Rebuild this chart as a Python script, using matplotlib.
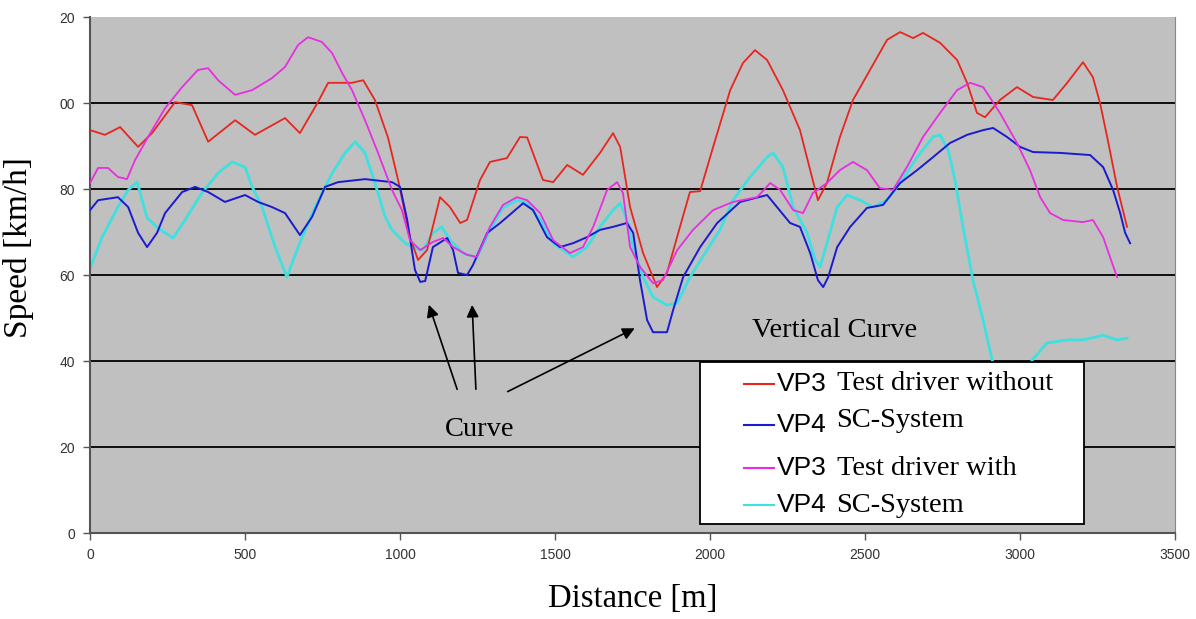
import matplotlib
matplotlib.use("Agg")
from matplotlib import pyplot as plt
from matplotlib.lines import Line2D
from matplotlib.patches import Rectangle

# ==== 資料 ====
red_x = [0, 48, 97, 155, 200, 274, 329, 381, 468, 532, 629, 677, 735, 768, 845, 881, 919, 961, 994,
         1032, 1058, 1087, 1129, 1161, 1194, 1216, 1258, 1290, 1345, 1387, 1410, 1461, 1494, 1539, 1590,
         1645, 1687, 1710, 1742, 1784, 1829, 1861, 1903, 1935, 1968, 2010, 2065, 2106, 2145, 2184, 2235,
         2290, 2323, 2348, 2377, 2419, 2461, 2516, 2571, 2613, 2655, 2687, 2742, 2797, 2829, 2861, 2887,
         2935, 2990, 3042, 3106, 3152, 3203, 3235, 3258, 3281, 3313, 3345]
red_y = [93.7, 92.6, 94.4, 89.8, 93.0, 100.2, 99.5, 91.0, 96.0, 92.6, 96.5, 93.0, 100.2, 104.7, 104.7,
         105.3, 100.7, 92.0, 82.0, 68.8, 63.5, 65.8, 78.1, 75.8, 72.1, 72.8, 82.1, 86.3, 87.2, 92.1, 92.0,
         82.1, 81.6, 85.6, 83.3, 88.4, 93.0, 89.8, 75.8, 65.1, 57.2, 60.5, 71.2, 79.3, 79.5, 89.8, 103.0,
         109.3, 112.3, 110.0, 103.0, 93.7, 84.4, 77.4, 81.4, 92.1, 100.7, 107.7, 114.7, 116.5, 115.1, 116.3,
         114.0, 110.0, 104.7, 97.7, 96.7, 100.7, 103.7, 101.4, 100.7, 104.7, 109.5, 106.0, 100.0, 92.1,
         80.5, 71.2]

blue_x = [0, 26, 90, 123, 155, 184, 216, 242, 297, 339, 381, 435, 500, 542, 587, 629, 677, 716, 758,
          800, 887, 974, 1000, 1023, 1048, 1065, 1081, 1106, 1152, 1171, 1187, 1216, 1235, 1281, 1323,
          1365, 1397, 1429, 1474, 1516, 1558, 1603, 1645, 1687, 1732, 1752, 1774, 1797, 1816, 1861, 1881,
          1913, 1968, 2023, 2097, 2184, 2216, 2258, 2290, 2323, 2348, 2365, 2381, 2410, 2452, 2506, 2558,
          2613, 2668, 2719, 2774, 2829, 2881, 2913, 2958, 3000, 3042, 3129, 3226, 3268, 3300, 3323, 3339,
          3355]
blue_y = [75.1, 77.4, 78.1, 75.8, 69.8, 66.5, 69.8, 74.4, 79.3, 80.5, 79.3, 77.0, 78.6, 77.0, 75.8, 74.4,
          69.3, 73.5, 80.5, 81.6, 82.3, 81.6, 80.5, 72.8, 61.2, 58.4, 58.6, 66.5, 68.6, 65.8, 60.5, 60.0,
          62.3, 69.8, 72.1, 74.7, 76.7, 75.1, 68.8, 66.5, 67.4, 68.8, 70.5, 71.2, 72.1, 69.8, 58.8, 49.5,
          46.7, 46.7, 51.9, 59.5, 66.5, 72.1, 77.0, 78.6, 75.8, 72.1, 71.2, 65.1, 58.8, 57.2, 59.5, 66.5,
          71.2, 75.6, 76.3, 81.4, 84.4, 87.4, 90.7, 92.6, 93.7, 94.2, 92.1, 89.8, 88.6, 88.4, 87.9, 85.1,
          79.8, 74.4, 69.8, 67.4]

mag_x = [0, 26, 58, 90, 119, 145, 187, 242, 297, 348, 381, 413, 468, 523, 587, 629, 671, 703, 748, 781,
         813, 845, 887, 929, 974, 1006, 1032, 1065, 1106, 1139, 1171, 1216, 1248, 1290, 1332, 1377, 1410,
         1452, 1494, 1548, 1590, 1623, 1668, 1700, 1719, 1742, 1774, 1816, 1848, 1894, 1945, 2010, 2074,
         2152, 2194, 2226, 2268, 2300, 2332, 2377, 2419, 2461, 2506, 2548, 2590, 2635, 2687, 2742, 2797,
         2839, 2881, 2935, 2990, 3032, 3065, 3097, 3139, 3203, 3235, 3268, 3290, 3313]
mag_y = [81.4, 84.9, 84.9, 82.8, 82.3, 86.7, 92.1, 98.8, 103.7, 107.7, 108.1, 105.3, 101.9, 103.0, 105.8,
         108.4, 113.5, 115.3, 114.2, 111.6, 107.0, 103.0, 96.0, 88.4, 79.8, 75.1, 68.1, 65.8, 67.7, 68.6,
         66.5, 64.7, 64.2, 71.2, 76.3, 78.1, 77.4, 74.4, 68.1, 65.1, 66.5, 71.2, 79.8, 81.6, 79.1, 66.5,
         61.9, 58.1, 58.8, 65.8, 70.5, 75.1, 77.0, 78.1, 81.4, 79.8, 75.1, 74.4, 79.1, 81.4, 84.4, 86.3,
         84.4, 80.2, 79.8, 85.1, 92.1, 97.7, 103.0, 104.7, 103.7, 97.7, 90.7, 84.4, 78.1, 74.4, 72.8, 72.3,
         72.8, 68.8, 64.2, 59.5]

cyan_x = [0, 39, 90, 123, 152, 168, 184, 219, 268, 306, 361, 413, 458, 500, 523, 555, 597, 635, 671, 726,
          781, 823, 855, 887, 919, 952, 974, 1016, 1042, 1074, 1106, 1135, 1161, 1203, 1248, 1290, 1332,
          1377, 1410, 1452, 1494, 1558, 1603, 1645, 1687, 1710, 1732, 1752, 1784, 1816, 1861, 1894, 1935,
          1990, 2032, 2074, 2129, 2184, 2203, 2235, 2268, 2313, 2339, 2355, 2377, 2410, 2442, 2484, 2526,
          2571, 2613, 2668, 2719, 2742, 2768, 2790, 2816, 2848, 2881, 2910, 2968, 3039, 3087, 3152, 3203,
          3268, 3313, 3345]
cyan_y = [61.6, 68.8, 75.8, 79.8, 81.6, 77.4, 73.3, 70.9, 68.6, 72.8, 79.1, 83.7, 86.3, 85.1, 80.5, 75.8,
          66.5, 59.5, 66.5, 75.8, 83.7, 88.4, 91.0, 88.4, 81.4, 73.5, 70.5, 67.4, 66.5, 65.8, 69.8, 71.2,
          68.1, 65.1, 64.0, 70.5, 75.6, 77.4, 76.7, 72.8, 67.4, 64.2, 66.5, 71.2, 75.1, 76.7, 72.8, 66.5,
          59.5, 54.9, 53.0, 53.5, 59.5, 65.8, 70.5, 77.4, 82.8, 87.4, 88.4, 85.1, 75.8, 69.8, 63.5, 61.9,
          67.4, 75.8, 78.6, 77.4, 75.8, 77.4, 81.4, 87.4, 92.1, 92.6, 89.1, 82.1, 71.2, 58.8, 49.5, 40.2,
          30.0, 40.2, 44.2, 44.9, 44.9, 46.0, 44.9, 45.3]

y_ticks = [0, 20, 40, 60, 80, 100, 120]
y_tick_labels = ["0", "20", "40", "60", "80", "00", "20"]
x_ticks = [0, 500, 1000, 1500, 2000, 2500, 3000, 3500]

SERIF = "Liberation Serif"
SANS = "Liberation Sans"

fig = plt.figure(figsize=(11.96, 6.19), dpi=100)
ax = fig.add_axes([0.0753, 0.1389, 0.9072, 0.8336])
ax.set_facecolor("#c0c0c0")

for y in [20, 40, 60, 80, 100]:
    ax.axhline(y, color="black", lw=1.3, zorder=1)

ax.plot(red_x, red_y, color="#e8251f", lw=1.3, zorder=3)
ax.plot(blue_x, blue_y, color="#1a1ad0", lw=1.4, zorder=3)
ax.plot(mag_x, mag_y, color="#e82ee0", lw=1.3, zorder=3)
ax.plot(cyan_x, cyan_y, color="#3ee0e0", lw=2.0, zorder=2)

ax.set_xlim(0, 3500)
ax.set_ylim(0, 120)
ax.set_xticks(x_ticks)
ax.set_xticklabels([str(t) for t in x_ticks], fontsize=10, family=SANS, color="#333333")
ax.set_yticks(y_ticks)
ax.set_yticklabels(y_tick_labels, fontsize=10, family=SANS, color="#333333")
ax.tick_params(direction="out", length=5, width=1, color="#555555", pad=6)

ax.spines["top"].set_visible(False)
for s in ["left", "bottom"]:
    ax.spines[s].set_color("#555555")
    ax.spines[s].set_linewidth(1.5)
ax.spines["right"].set_color("#888888")

ax.set_xlabel("Distance [m]", family=SERIF, fontsize=23.5, labelpad=15)
ax.set_ylabel("Speed [km/h]", family=SERIF, fontsize=24)
ax.yaxis.set_label_coords(-0.052, 0.554)

# 標註
arrow_kw = dict(arrowstyle="-|>", color="black", lw=1.2, mutation_scale=18)
ax.annotate("", xy=(1090, 53.7), xytext=(1187, 32.8), arrowprops=arrow_kw, zorder=4)
ax.annotate("", xy=(1232, 53.7), xytext=(1245, 32.8), arrowprops=arrow_kw, zorder=4)
ax.annotate("", xy=(1765, 47.9), xytext=(1339, 32.6), arrowprops=arrow_kw, zorder=4)
ax.text(1258, 24, "Curve", family=SERIF, fontsize=20.5, ha="center", va="center")
ax.text(2400, 47.2, "Vertical Curve", family=SERIF, fontsize=20.5, ha="center", va="center")

# 圖例 (手動)
ax.add_patch(Rectangle((0.562, 0.0174), 0.354, 0.314, transform=ax.transAxes,
                       facecolor="white", edgecolor="black", lw=1.3, zorder=5))
rows = [(0.289, "#e8251f", "VP3", "Test driver without", 0.0),
        (0.210, "#1a1ad0", "VP4", "SC-System", 0.009),
        (0.126, "#e82ee0", "VP3", "Test driver with", 0.0),
        (0.054, "#3ee0e0", "VP4", "SC-System", 0.0)]
for y, c, tag, txt, dy in rows:
    ax.add_line(Line2D([0.603, 0.630], [y, y], transform=ax.transAxes, color=c, lw=1.5, zorder=6))
    ax.text(0.633, y, tag, transform=ax.transAxes, family=SANS, fontsize=19,
            ha="left", va="center", zorder=6)
    ax.text(0.688, y + dy, txt, transform=ax.transAxes, family=SERIF, fontsize=20.5,
            ha="left", va="center", zorder=6)

fig.savefig("out.png", dpi=100)
